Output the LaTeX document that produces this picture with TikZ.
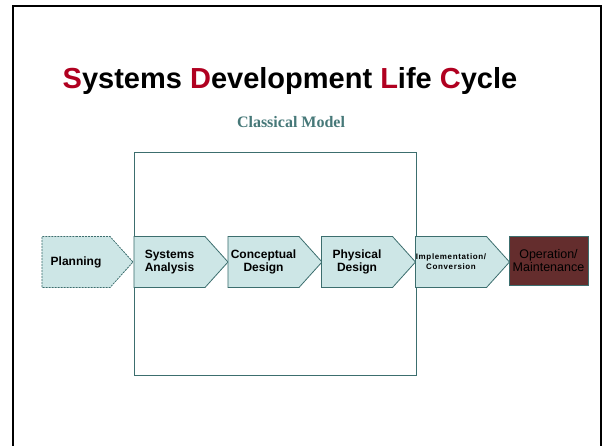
\documentclass[tikz,border=0pt]{standalone}
\usepackage{fontspec}
\setmainfont{Liberation Sans}
\newfontfamily\timesfont{Liberation Serif}
\usetikzlibrary{shapes.symbols}
\definecolor{sdlcred}{RGB}{176,0,32}
\definecolor{sdlcteal}{RGB}{70,120,120}
\definecolor{sdlcline}{RGB}{60,110,110}
\definecolor{sdlcfill}{RGB}{205,230,230}
\definecolor{sdlcbrown}{RGB}{100,45,45}
\tikzset{
  phase/.style={signal, signal to=east, signal pointer angle=96,
    draw=sdlcline, fill=sdlcfill, line width=0.8pt,
    minimum width=94pt, minimum height=51pt, inner sep=0pt, align=center,
    font=\bfseries\fontsize{12}{13}\selectfont},
  hl/.style={text=sdlcred}
}
\begin{document}
\begin{tikzpicture}[x=1pt,y=-1pt]
	\useasboundingbox (0,0) rectangle (602,445);
	% Slide frame
	\draw [black, line width=2pt] (13,470) -- (13,6) -- (601,6) -- (601,470);
	% Titles
	\node (title) at (290,81) {\fontsize{29}{32}\selectfont\bfseries
		\textcolor{sdlcred}{S}ystems \textcolor{sdlcred}{D}evelopment \textcolor{sdlcred}{L}ife \textcolor{sdlcred}{C}ycle};
	\node [text=sdlcteal] (model) at (291,122) {\timesfont\bfseries\fontsize{16}{18}\selectfont Classical Model};
	% Phases
	\draw [sdlcline, line width=0.8pt] (134,152) rectangle (416,375);
	\node [phase, dash pattern=on 2pt off 1pt, minimum width=91pt] (plan) at (76,262) {Planning};
	\node [phase] (analysis) at (169.5,262) {Systems\\Analysis};
	\node [phase] (concept) at (263.5,262) {Conceptual\\Design};
	\node [phase] (physical) at (357,262) {Physical\\Design};
	\node [phase, font=\bfseries\fontsize{8}{10}\selectfont\addfontfeature{LetterSpace=8}] (impl) at (451,262) {Implementation/\\Conversion};
	\node [draw=sdlcline, fill=sdlcbrown, line width=0.8pt, minimum width=79pt, minimum height=49pt,
		inner sep=0pt, align=center, font=\fontsize{12.5}{13.5}\selectfont] (oper) at (548.5,260.5) {Operation/\\Maintenance};
\end{tikzpicture}
\end{document}
